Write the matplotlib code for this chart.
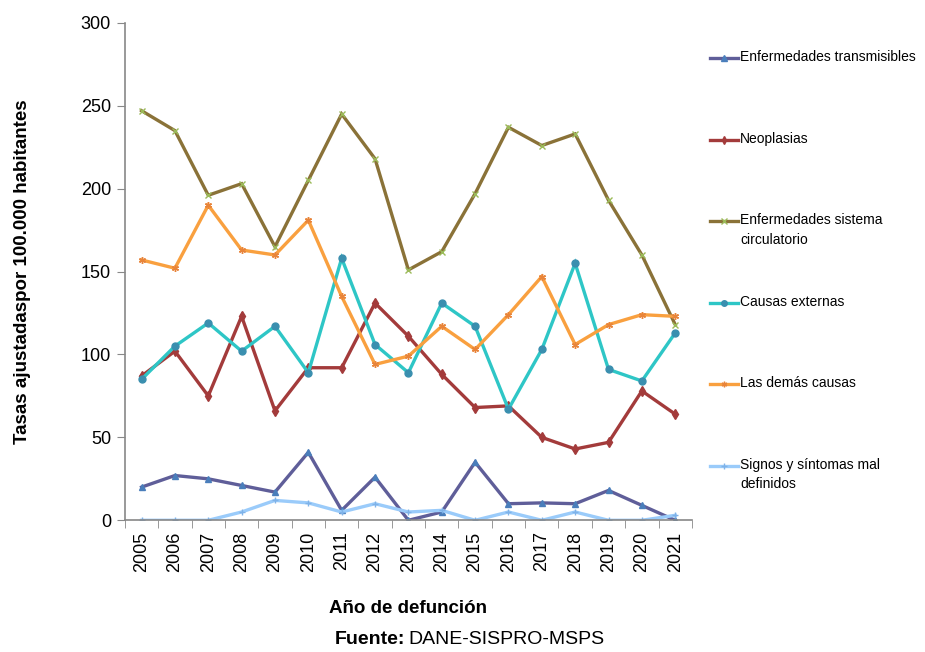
import numpy as np
import matplotlib.pyplot as plt
from matplotlib.lines import Line2D

plt.rcParams['font.family'] = ['Liberation Sans', 'DejaVu Sans']

# datos
years = [str(y) for y in range(2005, 2022)]
transmisibles = [20, 27, 25, 21, 17, 41, 6, 26, 0, 5, 35, 10, 10.5, 10, 18, 9, 0]
neoplasias = [87, 102, 75, 123, 66, 92, 92, 131, 111, 88, 68, 69, 50, 43, 47, 78, 64]
circulatorio = [247, 235, 196, 203, 165, 205, 245, 218, 151, 162, 197, 237, 226, 233, 193, 160, 118]
externas = [85, 105, 119, 102, 117, 89, 158, 106, 89, 131, 117, 67, 103, 155, 91, 84, 113]
demas = [157, 152, 190, 163, 160, 181, 135, 94, 99, 117, 103, 124, 147, 106, 118, 124, 123]
signos = [0, 0, 0, 5, 12, 10.5, 5, 10, 5, 6, 0, 5, 0, 5, 0, 0, 3]

series = [
    ('Enfermedades transmisibles', transmisibles, '#5F5E99', '^', '#4A7EBB'),
    ('Neoplasias', neoplasias, '#A33B3B', 'd', '#A33B3B'),
    ('Enfermedades sistema\ncirculatorio', circulatorio, '#8A7238', 'x', '#9BBB59'),
    ('Causas externas', externas, '#2EC6C6', 'o', '#3A8FAF'),
    ('Las demás causas', demas, '#F9A03F', (6, 2, 0), '#E8843A'),
    ('Signos y síntomas mal\ndefinidos', signos, '#9ACBFA', '+', '#7FB2E8'),
]

W, H = 925, 652
fig = plt.figure(figsize=(W / 100, H / 100), dpi=100)
ax = fig.add_axes([0.135, 0.202, 0.613, 0.763])

x = np.arange(len(years))
for name, vals, col, mk, mcol in series:
    ax.plot(x, vals, color=col, lw=2.4, marker=mk, ms=5, mfc=mcol, mec=mcol,
            mew=1.0, solid_joinstyle='miter')

ax.set_xlim(-0.5, len(years) - 0.5)
ax.set_ylim(0, 300)
ax.set_yticks(range(0, 301, 50))
ax.set_xticks(x)
ax.set_xticklabels(years, rotation=90, fontsize=13)
ax.set_xticks(np.arange(-0.5, len(years), 1), minor=True)
ax.tick_params(axis='x', which='major', length=0, pad=8)
ax.tick_params(axis='x', which='minor', length=6, color='#888888')
ax.tick_params(axis='y', length=6, color='#888888', labelsize=13, pad=4)

for s in ['top', 'right']:
    ax.spines[s].set_visible(False)
for s in ['left', 'bottom']:
    ax.spines[s].set_color('#888888')
    ax.spines[s].set_linewidth(1.2)

ax.set_ylabel('Tasas ajustadaspor 100.000 habitantes', fontsize=13.5,
              fontweight='bold', labelpad=36)
ax.set_xlabel('Año de defunción', fontsize=13.5, fontweight='bold', labelpad=20)

fig.text(0.438, 0.012, 'Fuente:', fontsize=14, fontweight='bold', ha='right')
fig.text(0.442, 0.012, 'DANE-SISPRO-MSPS', fontsize=14, ha='left')

# leyenda a la derecha, entradas con separación uniforme
y0, step = 58, 81.6
for i, (name, vals, col, mk, mcol) in enumerate(series):
    yc = 1 - (y0 + i * step) / H
    fig.add_artist(Line2D([710 / W, 738 / W], [yc, yc], color=col, lw=2.4,
                          transform=fig.transFigure))
    fig.add_artist(Line2D([724 / W], [yc], marker=mk, ms=4, mfc=mcol, mec=mcol,
                          mew=1.0, transform=fig.transFigure))
    fig.text(740 / W, yc + 8 / H, name, fontsize=10, va='top', ha='left',
             linespacing=1.5)

fig.savefig('out.png', dpi=100)
